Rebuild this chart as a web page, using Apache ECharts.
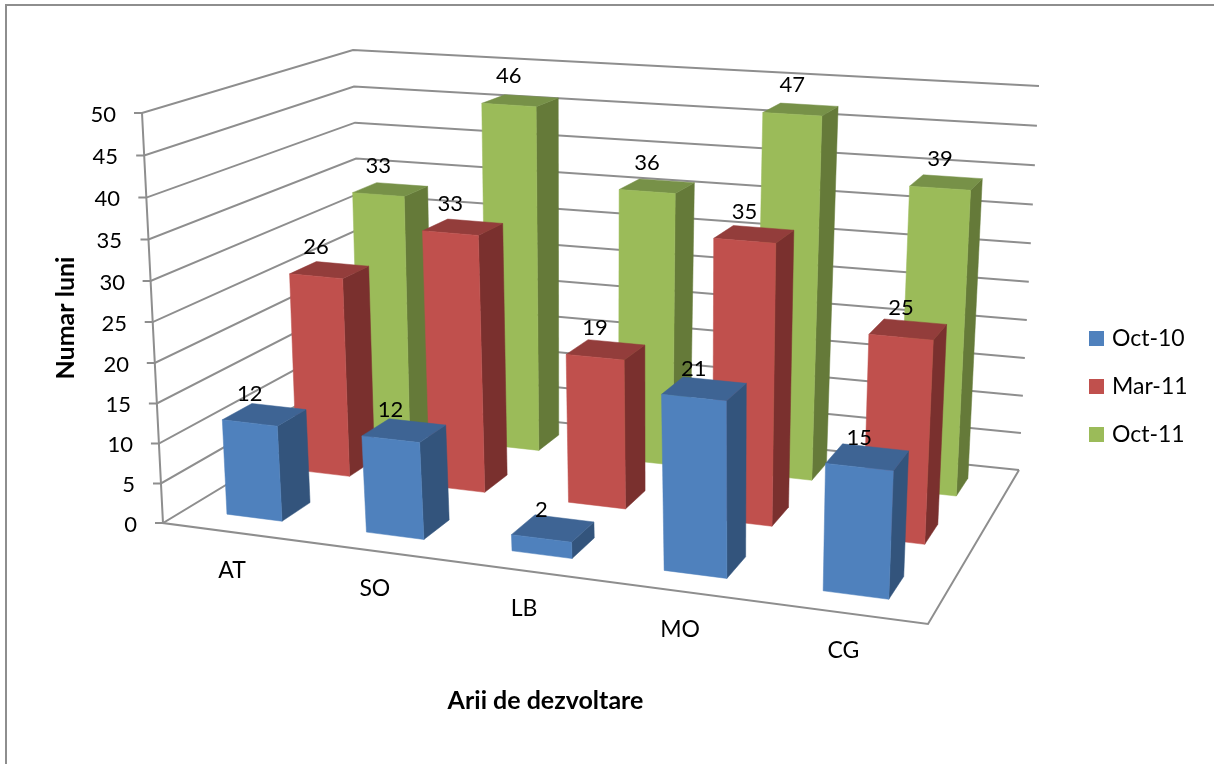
<!DOCTYPE html>
<html><head><meta charset="utf-8">
<style>html,body{margin:0;padding:0;background:#fff}#c{width:1214px;height:764px}</style>
<script src="https://cdn.jsdelivr.net/npm/echarts@6/dist/echarts.min.js"></script>
</head><body><div id="c"></div>
<script>
const categories = ['AT','SO','LB','MO','CG'];
const seriesNames = ['Oct-10','Mar-11','Oct-11'];
const oct10 = [12,12,2,21,15];
const mar11 = [26,33,19,35,25];
const oct11 = [33,46,36,47,39];
const yTicks = [0,5,10,15,20,25,30,35,40,45,50];

const FONT = 'Lato';
const GRID = {left:163, top:113, width:765, height:410};
const GRAY = '#8e8e8e';
// Room corners on screen: [front-left, front-right, back-right, back-left]
const floorQuad = [[163,523],[928,624],[1019,470],[363,402]];
const ceilQuad  = [[142,113],[950,174],[1039,86],[353,50]];
const U_WARP = 0.03, U_WARP_TOP = 0.075, V_WARP = 0.04;

function homography(q){
  const [[x0,y0],[x1,y1],[x2,y2],[x3,y3]] = q;
  const sx=x0-x1+x2-x3, sy=y0-y1+y2-y3, dx1=x1-x2, dx2=x3-x2, dy1=y1-y2, dy2=y3-y2;
  const den=dx1*dy2-dx2*dy1, g=(sx*dy2-dx2*sy)/den, h=(dx1*sy-sx*dy1)/den;
  const a=x1-x0+g*x1, b=x3-x0+h*x3, d=y1-y0+g*y1, e=y3-y0+h*y3;
  return (u,w)=>{const k=g*u+h*w+1; return [(a*u+b*w+x0)/k,(d*u+e*w+y0)/k];};
}
const floorH = homography(floorQuad), ceilH = homography(ceilQuad);
// u: along categories, v: share of the value axis, w: depth
function project(u,v,w){
  const uu=u+(U_WARP+U_WARP_TOP*w*v)*u*(1-u);
  const vv=v-V_WARP*v*(1-v);
  const b=floorH(uu,w), t=ceilH(uu,w);
  return [b[0]+(t[0]-b[0])*vv, b[1]+(t[1]-b[1])*vv];
}
const toU = px => (px-GRID.left)/GRID.width;
const toV = py => (GRID.top+GRID.height-py)/GRID.height;

const BAR_HALF = 0.04, DEPTH_HALF = 0.0667;
const palette = [
  {front:'#4f81bd', top:'#3e6494', side:'#33547c'},
  {front:'#c0504d', top:'#933d3b', side:'#7a302e'},
  {front:'#9bbb59', top:'#779148', side:'#657a39'}
];

function barRenderer(s){
  return function(params, api){
    const c = api.coord([api.value(0), api.value(1)]);
    const u = toU(c[0]), v = toV(c[1]);
    const wc = (s+0.5)/3, u0=u-BAR_HALF, u1=u+BAR_HALF, w0=wc-DEPTH_HALF, w1=wc+DEPTH_HALF;
    const col = palette[s];
    const poly = (pts,fill)=>({type:'polygon',shape:{points:pts},style:{fill,stroke:fill,lineWidth:0.5}});
    const fc = project(u,v,w0);
    return {type:'group',children:[
      poly([project(u1,0,w0),project(u1,0,w1),project(u1,v,w1),project(u1,v,w0)],col.side),
      poly([project(u0,v,w0),project(u1,v,w0),project(u1,v,w1),project(u0,v,w1)],col.top),
      poly([project(u0,0,w0),project(u1,0,w0),project(u1,v,w0),project(u0,v,w0)],col.front),
      {type:'text',z2:10,style:{text:String(api.value(1)),x:fc[0],y:fc[1]-29,align:'center',verticalAlign:'middle',
        font:'22px '+FONT,fill:'#000'}}
    ]};
  };
}

function gridRenderer(params, api){
  const v = toV(api.coord([0, api.value(1)])[1]);
  const a=project(0,v,0), b=project(0,v,1), c=project(1,v,1);
  return {type:'polyline',shape:{points:[[a[0]-8,a[1]],a,b,c]},style:{fill:'none',stroke:GRAY,lineWidth:2}};
}
function frameRenderer(params, api){
  return {type:'polyline',shape:{points:[project(0,1,0),project(0,0,0),project(1,0,0),project(1,0,1)]},
     style:{fill:'none',stroke:GRAY,lineWidth:2}};
}
function catRenderer(params, api){
  const u=toU(api.coord([api.value(0),0])[0]);
  const p=project(u,0,0);
  return {type:'text',style:{text:categories[api.value(0)],x:p[0],y:p[1]+38,align:'center',verticalAlign:'middle',
    font:'23px '+FONT,fill:'#000'}};
}

const rich={};
yTicks.forEach(t=>{
  const v=t/50, p=project(0,v,0);
  const dy=p[1]-(GRID.top+GRID.height*(1-v));
  rich['t'+t]={padding:[Math.round(3+2*dy),Math.round(project(0,0,0)[0]-p[0]),0,0],
    fontFamily:FONT,fontSize:22,color:'#000'};
});

const bars=[oct10,mar11,oct11].map((vals,s)=>({
  type:'custom',name:seriesNames[s],z:5-s,silent:true,clip:false,
  coordinateSystem:'cartesian2d',itemStyle:{color:palette[s].front},
  renderItem:barRenderer(s),data:vals.map((v,i)=>[i,v]),encode:{x:0,y:1}
}));

const chart=echarts.init(document.getElementById('c'),null,{renderer:'canvas'});
chart.setOption({
  animation:false,backgroundColor:'#fff',
  textStyle:{fontFamily:FONT},
  grid:{left:GRID.left,top:GRID.top,width:GRID.width,height:GRID.height},
  xAxis:{type:'category',data:categories,axisLabel:{show:false},axisLine:{show:false},axisTick:{show:false},
    name:'Arii de dezvoltare',nameLocation:'middle',nameGap:165,
    nameTextStyle:{fontFamily:FONT,fontWeight:'bold',fontSize:25,color:'#000'}},
  yAxis:{type:'value',min:0,max:50,interval:5,axisLine:{show:false},axisTick:{show:false},splitLine:{show:false},
    axisLabel:{margin:26,formatter:v=>'{t'+v+'|'+v+'}',rich},
    name:'Numar luni',nameLocation:'middle',nameGap:85,nameRotate:90,
    nameTextStyle:{fontFamily:FONT,fontWeight:'bold',fontSize:25,color:'#000'}},
  legend:{show:true,data:seriesNames,orient:'vertical',left:1089,top:327,padding:0,itemWidth:15,itemHeight:15,itemGap:25,icon:'rect',
    textStyle:{fontFamily:FONT,fontSize:23,color:'#000',padding:[0,0,0,3]}},
  graphic:[{type:'rect',silent:true,z:0,shape:{x:6,y:5,width:1400,height:1000},style:{fill:'none',stroke:GRAY,lineWidth:2}}],
  series:[
    {type:'custom',z:1,silent:true,clip:false,renderItem:gridRenderer,data:yTicks.map(t=>[0,t]),encode:{x:0,y:1}},
    {type:'custom',z:1,silent:true,clip:false,renderItem:frameRenderer,data:[[0,0]],encode:{x:0,y:1}},
    {type:'custom',z:2,silent:true,clip:false,renderItem:catRenderer,data:categories.map((c,i)=>[i,0]),encode:{x:0,y:1}},
    ...bars
  ]
});
</script></body></html>
